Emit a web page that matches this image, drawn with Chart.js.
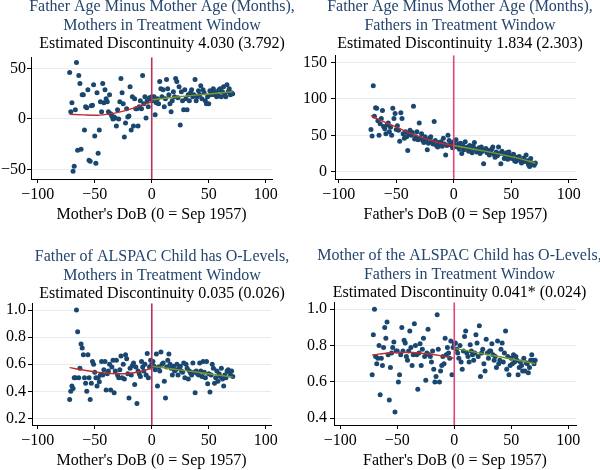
<!DOCTYPE html>
<html>
<head>
<meta charset="utf-8">
<script src="https://cdn.jsdelivr.net/npm/chart.js@4.4.1/dist/chart.umd.min.js"></script>
<style>
  body { margin: 0; background: #fff; overflow: hidden; width: 600px; height: 470px; position: relative; }
  canvas { position: absolute; }
</style>
</head>
<body>
<canvas id="c1" width="330" height="235" style="left:0;top:0"></canvas>
<canvas id="c2" width="330" height="235" style="left:300px;top:0"></canvas>
<canvas id="c3" width="330" height="235" style="left:0;top:235px"></canvas>
<canvas id="c4" width="330" height="235" style="left:300px;top:235px"></canvas>
<script>
// months relative to Sep 1957
var months = [-72,-71,-70,-69,-68,-67,-66,-65,-64,-63,-62,-61,-60,-59,-58,-57,-56,-55,-54,-53,-52,-51,-50,-49,-48,-47,-46,-45,-44,-43,-42,-41,-40,-39,-38,-37,-36,-35,-34,-33,-32,-31,-30,-29,-28,-27,-26,-25,-24,-23,-22,-21,-20,-19,-18,-17,-16,-15,-14,-13,-12,-11,-10,-9,-8,-7,-6,-5,-4,-3,-2,-1,
  0,1,2,3,4,5,6,7,8,9,10,11,12,13,14,15,16,17,18,19,20,21,22,23,24,25,26,27,28,29,30,31,32,33,34,35,36,37,38,39,40,41,42,43,44,45,46,47,48,49,50,51,52,53,54,55,56,57,58,59,60,61,62,63,64,65,66,67,68,69,70,71];

// Father age minus mother age, mothers in window
var ageGapMothers = [46,7,16,-52,-47,9,56,-31,43,35, -30,24,24,-11,12,11,29,-41,-42,13, 13.5,34,-17,-44,26,-34,-11,17,7,35,
  16,29,20,17,7,24,5,3,0,2, 1,-7,9,0,17,40,26,15,-18,-4, 10,2,3,32,-11,22,-7,20,10,10, -7,12,18,10,43,15,22,1,18,12, 21,20,
  22,18,22,4,16,20,15,37,30,22, 29,12,20,39,30,24,15,7,18,27, 22,40,37,21,32,-6,27,18,9,29, 20,9,24,18,26,29,22,24,39,18,
  22,28,24,33,20,29,26,18,15,22, 15,28,24,26,30,24,27,22,24,29, 30,22,27,32,24,22,34,27,30,24, 26,25];

// Father age minus mother age, fathers in window
var ageGapFathers = [58,49,118,76,88,87,70,50,66,73, 84,62,59,52,64,67,55,61,50,87, 73,80,58,63,57,42,81,73,52,46,
  55,48,29,52,57,50,54,90,45,48, 55,44,67,46,52,43,40,48,44,30, 39,46,48,41,38,69,43,36,34,40, 37,41,35,46,38,23,36,50,43,37, 39,33,
  41,36,44,34,38,31,39,25,36,30, 41,33,34,28,36,30,26,35,40,31, 27,29,33,25,34,28,11,30,32,26, 29,23,27,31,34,24,20,27,22,34,
  25,11,28,25,18,21,26,17,27,22, 19,18,24,15,14,20,17,21,15,12, 16,19,14,23,15,10,7,18,12,11, 9,12];

// Father has O-levels, mothers in window
var fatherOLevels = [0.34,0.40,0.44,0.42,0.50,0.50,1.00,0.84,0.50,0.57, 0.75,0.72,0.67,0.50,0.46,0.40,0.67,0.50,0.34,0.46,
  0.62,0.60,0.54,0.50,0.44,0.50,0.47,0.52,0.62,0.52, 0.56,0.62,0.41,0.53,0.55,0.60,0.41,0.58,0.63,0.39,
  0.55,0.63,0.52,0.50,0.56,0.66,0.50,0.60,0.49,0.67, 0.64,0.53,0.35,0.57,0.52,0.59,0.61,0.45,0.58,0.31,
  0.55,0.53,0.51,0.62,0.58,0.55,0.60,0.52,0.68,0.50, 0.58,0.63,
  0.60,0.62,0.585,0.56,0.675,0.44,0.58,0.55,0.69,0.60, 0.61,0.475,0.35,0.58,0.63,0.675,0.60,0.57,0.52,0.585,
  0.55,0.56,0.60,0.52,0.57,0.585,0.55,0.54,0.61,0.50, 0.60,0.57,0.49,0.55,0.535,0.52,0.61,0.54,0.39,0.55,
  0.53,0.52,0.61,0.55,0.51,0.62,0.54,0.50,0.62,0.455, 0.53,0.395,0.52,0.60,0.57,0.46,0.50,0.55,0.475,0.53,
  0.51,0.57,0.49,0.44,0.52,0.50,0.55,0.56,0.54,0.52, 0.55,0.51];

// Mother has O-levels, fathers in window
var motherOLevels = [0.64,0.86,1.00,0.74,0.70,0.73,0.80,0.53,0.73,0.69, 0.79,0.90,0.84,0.93,0.75,0.50,0.68,0.76,0.79,0.82,
  0.435,0.77,0.77,0.60,0.64,0.75,0.90,0.77,0.83,0.815, 0.74,0.72,0.77,0.88,0.79,0.69,0.75,0.92,0.80,0.75,
  0.56,0.76,0.81,0.69,0.78,0.84,0.74,0.61,0.76,0.89, 0.75,0.74,0.71,0.77,0.67,0.60,0.63,0.97,0.78,0.60,
  0.66,0.69,0.74,0.70,0.84,0.75,0.79,0.76,0.73,0.825, 0.64,0.79,
  0.81,0.815,0.78,0.76,0.73,0.80,0.71,0.67,0.77,0.85, 0.88,0.76,0.74,0.71,0.805,0.77,0.75,0.72,0.76,0.86,
  0.815,0.74,0.91,0.63,0.76,0.78,0.70,0.66,0.835,0.76, 0.73,0.77,0.77,0.81,0.75,0.72,0.74,0.68,0.825,0.70,
  0.72,0.78,0.815,0.71,0.76,0.88,0.67,0.74,0.64,0.69, 0.73,0.70,0.75,0.71,0.74,0.72,0.64,0.68,0.71,0.69,
  0.66,0.73,0.66,0.705,0.70,0.65,0.68,0.72,0.75,0.72, 0.70,0.72];

// fitted curves either side of the cutoff
var fitLeftX = [-72,-60,-48,-36,-24,-12,0];
var fitRightX = [0,12,24,36,48,60,71];
var fit1L = [4.6,4,3.6,5,8,12.3,17];
var fit1R = [19,20.5,22,23.3,24.5,25.7,27];
var fit2L = [77,68,60,51.5,45,39.5,36];
var fit2R = [36,32.5,29,25.5,21.5,17,12];
var fit3L = [0.575,0.557,0.542,0.532,0.53,0.543,0.57];
var fit3R = [0.585,0.572,0.558,0.545,0.532,0.518,0.505];
var fit4L = [0.748,0.758,0.763,0.762,0.755,0.745,0.73];
var fit4R = [0.785,0.771,0.757,0.743,0.729,0.714,0.70];

var xTicks = [-100,-50,0,50,100];

var serif = "'Liberation Serif', 'Times New Roman', serif";
var navy = '#1a476f';
var canvasW = 330;

function pts(xs, ys) {
    return xs.map(function (x, i) { return {x: x, y: ys[i]}; });
}

function minus(v) {
    return String(v).replace('-', '\u2212');
}

function makePanel(id, p) {
    var font = {family: serif, size: 16, lineHeight: 1.15, weight: 'normal'};
    // empty right-hand axis so the titles centre where the reference has them
    var rightGap = 2 * p.titleCenter - p.plotRight;
    new Chart(document.getElementById(id), {
        type: 'scatter',
        data: {
            datasets: [
                {
                    data: [{x: 0, y: p.ymin}, {x: 0, y: p.ymax}],
                    showLine: true, borderColor: p.cutColor, borderWidth: 1.6,
                    pointRadius: 0, order: 0
                },
                {
                    data: pts(fitLeftX, p.fitL),
                    showLine: true, borderColor: '#c42b2f', borderWidth: 1.4,
                    cubicInterpolationMode: 'monotone', pointRadius: 0, order: 1
                },
                {
                    data: pts(fitRightX, p.fitR),
                    showLine: true, borderColor: '#7b9a25', borderWidth: 1.4,
                    cubicInterpolationMode: 'monotone', pointRadius: 0, order: 1
                },
                {
                    data: pts(months, p.ys),
                    backgroundColor: navy, borderWidth: 0, pointRadius: 2.5, order: 2
                }
            ]
        },
        options: {
            responsive: false,
            animation: false,
            layout: {padding: {top: p.padTop, right: canvasW - p.plotRight - rightGap, bottom: p.padBottom, left: 0}},
            plugins: {
                legend: {display: false},
                tooltip: {enabled: false},
                title: {
                    display: true, text: p.title, color: '#24456e', font: font,
                    padding: {top: p.titleTop, bottom: 0}
                },
                subtitle: {
                    display: true, text: p.sub, color: '#000', font: font,
                    padding: {top: 0, bottom: p.subBottom}
                }
            },
            scales: {
                x: {
                    type: 'linear', min: p.xmin, max: p.xmax,
                    afterBuildTicks: function (s) { s.ticks = xTicks.map(function (v) { return {value: v}; }); },
                    ticks: {color: '#000', font: font, padding: 3, maxRotation: 0, callback: minus},
                    grid: {drawOnChartArea: false, tickLength: 4, tickColor: '#000'},
                    border: {color: '#000', width: 1},
                    title: {display: true, text: p.xTitle, color: '#000', font: font, padding: 0},
                    afterFit: function (s) { s.height = 45; }
                },
                y: {
                    type: 'linear', min: p.ymin, max: p.ymax,
                    afterBuildTicks: function (s) { s.ticks = p.yTicks.map(function (v) { return {value: v}; }); },
                    ticks: {color: '#000', font: font, padding: p.yPad, callback: p.yFmt},
                    grid: {color: '#e3ecef', tickLength: 4, tickColor: '#000'},
                    border: {color: '#000', width: 1},
                    afterFit: function (s) { s.width = p.yWidth; }
                },
                yr: {
                    type: 'linear', axis: 'y', position: 'right',
                    ticks: {display: false},
                    grid: {display: false, drawTicks: false},
                    border: {display: false},
                    afterFit: function (s) { s.width = rightGap; }
                }
            }
        }
    });
}

function oneDec(v) { return v.toFixed(1); }

makePanel('c1', {
    title: ['Father Age Minus Mother Age (Months),', 'Mothers in Treatment Window'],
    sub: 'Estimated Discontinuity 4.030 (3.792)',
    xTitle: "Mother's DoB (0 = Sep 1957)",
    ys: ageGapMothers, fitL: fit1L, fitR: fit1R,
    xmin: -105.9, xmax: 105.5, ymin: -59.6, ymax: 61.2,
    yTicks: [-50, 0, 50], yFmt: minus, yWidth: 31, yPad: 1,
    padTop: -2, titleTop: 0, subBottom: 4, padBottom: 11,
    plotRight: 272, titleCenter: 162,
    cutColor: '#b8325c'
});

makePanel('c2', {
    title: ['Father Age Minus Mother Age (Months),', 'Fathers in Treatment Window'],
    sub: 'Estimated Discontinuity 1.834 (2.303)',
    xTitle: "Father's DoB (0 = Sep 1957)",
    ys: ageGapFathers, fitL: fit2L, fitR: fit2R,
    xmin: -103.3, xmax: 106.4, ymin: -10, ymax: 160,
    yTicks: [0, 50, 100, 150], yFmt: minus, yWidth: 35, yPad: 4,
    padTop: -2, titleTop: 0, subBottom: 2, padBottom: 11,
    plotRight: 276, titleCenter: 160,
    cutColor: '#e2457a'
});

makePanel('c3', {
    title: ['Father of ALSPAC Child has O-Levels,', 'Mothers in Treatment Window'],
    sub: 'Estimated Discontinuity 0.035 (0.026)',
    xTitle: "Mother's DoB (0 = Sep 1957)",
    ys: fatherOLevels, fitL: fit3L, fitR: fit3R,
    xmin: -105, xmax: 104.5, ymin: 0.151, ymax: 1.051,
    yTicks: [0.2, 0.4, 0.6, 0.8, 1.0], yFmt: oneDec, yWidth: 32, yPad: 2,
    padTop: 0, titleTop: 13, subBottom: 0, padBottom: 0,
    plotRight: 271, titleCenter: 162,
    cutColor: '#b8325c'
});

makePanel('c4', {
    title: ['Mother of the ALSPAC Child has O-Levels,', 'Fathers in Treatment Window'],
    sub: 'Estimated Discontinuity 0.041* (0.024)',
    xTitle: "Father's DoB (0 = Sep 1957)",
    ys: motherOLevels, fitL: fit4L, fitR: fit4R,
    xmin: -105.5, xmax: 106.8, ymin: 0.363, ymax: 1.039,
    yTicks: [0.4, 0.6, 0.8, 1.0], yFmt: oneDec, yWidth: 34, yPad: 3,
    padTop: 0, titleTop: 12, subBottom: 0, padBottom: 0,
    plotRight: 276, titleCenter: 159.5,
    cutColor: '#e2457a'
});
</script>
</body>
</html>
